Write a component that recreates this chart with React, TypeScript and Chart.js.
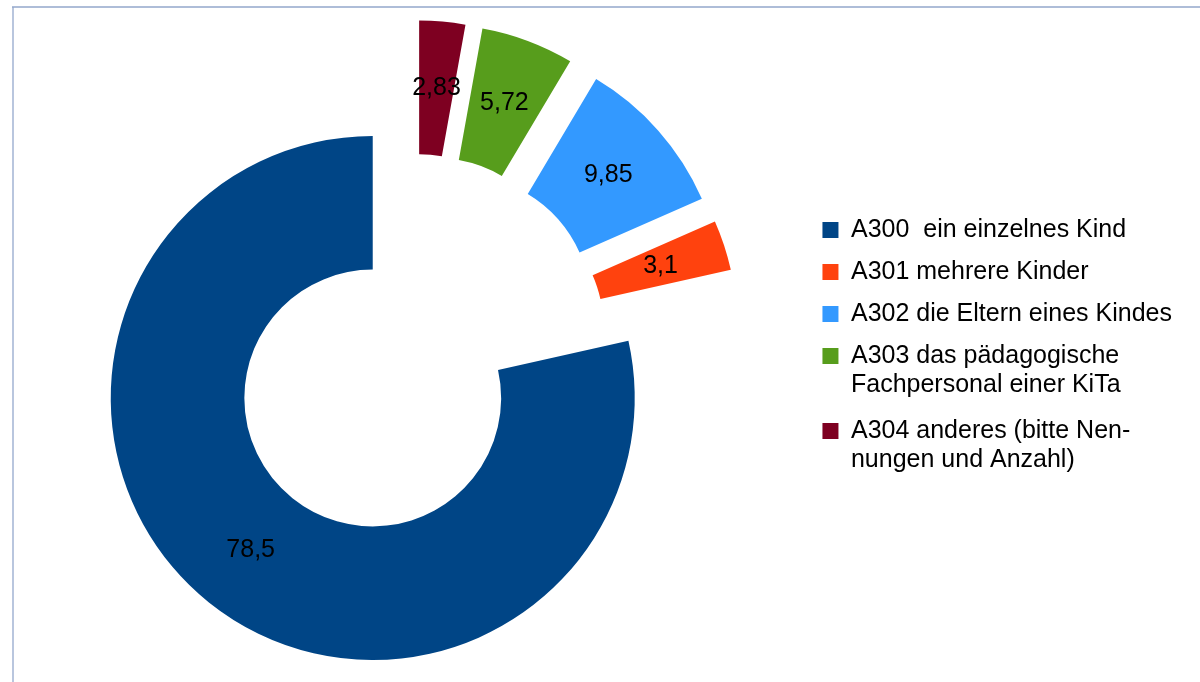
import React, { useEffect, useRef } from 'react';
import { Chart, registerables } from 'chart.js';

Chart.register(...registerables);

// ---- data ----
const categories: (string | string[])[] = [
  'A300  ein einzelnes Kind',
  'A301 mehrere Kinder',
  'A302 die Eltern eines Kindes',
  ['A303 das pädagogische', 'Fachpersonal einer KiTa'],
  ['A304 anderes (bitte Nen-', 'nungen und Anzahl)'],
];
const values = [78.5, 3.1, 9.85, 5.72, 2.83];
const colors = ['#004586', '#ff420e', '#3399ff', '#579d1c', '#7e0021'];
const exploded = [false, true, true, true, true];

// ---- style constants ----
const FONT = '"Liberation Sans", Arial, Helvetica, sans-serif';
const EXPLODE = 130;
const SHIFT = 60; // canvas extends this far left of the page

const fmt = (v: number) => String(v).replace('.', ',');

// LibreOffice draws the series counter-clockwise from 12 o'clock;
// Chart.js draws clockwise, so reverse for drawing and reverse the legend back.
const drawLabels = [...categories].reverse();
const drawValues = [...values].reverse();
const drawColors = [...colors].reverse();
const drawExploded = [...exploded].reverse();

// Exploded slices are pushed outward along a direction halfway between the
// slice's own bisector and the bisector of the whole exploded group.
const explodePlugin = {
  id: 'explodeSlices',
  afterDatasetsUpdate(chart: any) {
    const meta = chart.getDatasetMeta(0);
    const ex = meta.data.filter((_: any, i: number) => drawExploded[i]);
    if (!ex.length) return;
    const gStart = Math.min(...ex.map((a: any) => a.startAngle));
    const gEnd = Math.max(...ex.map((a: any) => a.endAngle));
    const gMid = (gStart + gEnd) / 2;
    meta.data.forEach((arc: any, i: number) => {
      if (!drawExploded[i]) return;
      const mid = (arc.startAngle + arc.endAngle) / 2;
      const dx = (Math.cos(mid) + Math.cos(gMid)) / 2;
      const dy = (Math.sin(mid) + Math.sin(gMid)) / 2;
      arc.x += dx * EXPLODE;
      arc.y += dy * EXPLODE;
    });
  },
};

const valueLabelPlugin = {
  id: 'valueLabels',
  afterDatasetsDraw(chart: any) {
    const { ctx } = chart;
    const meta = chart.getDatasetMeta(0);
    ctx.save();
    ctx.font = `25px ${FONT}`;
    ctx.fillStyle = '#000000';
    ctx.textAlign = 'center';
    ctx.textBaseline = 'middle';
    meta.data.forEach((arc: any, i: number) => {
      const p = arc.getCenterPoint();
      ctx.fillText(fmt(drawValues[i]), p.x, p.y);
    });
    ctx.restore();
  },
};

const framePlugin = {
  id: 'frame',
  beforeDraw(chart: any) {
    const { ctx, width, height } = chart;
    ctx.save();
    ctx.fillStyle = '#ffffff';
    ctx.fillRect(0, 0, width, height);
    ctx.strokeStyle = '#b9c6de';
    ctx.lineWidth = 2;
    ctx.beginPath();
    ctx.moveTo(SHIFT + 13, 7);
    ctx.lineTo(SHIFT + 13, height);
    ctx.stroke();
    ctx.strokeStyle = '#93a7cb';
    ctx.lineWidth = 1.5;
    ctx.beginPath();
    ctx.moveTo(SHIFT + 12, 7);
    ctx.lineTo(width, 7);
    ctx.stroke();
    ctx.restore();
  },
};

export default function App() {
  const ref = useRef<HTMLCanvasElement | null>(null);

  useEffect(() => {
    if (!ref.current) return;
    Chart.defaults.font.family = FONT;
    const chart = new Chart(ref.current, {
      type: 'doughnut',
      data: {
        labels: drawLabels as any,
        datasets: [
          {
            data: drawValues,
            backgroundColor: drawColors,
            borderWidth: 0,
            clip: false as any,
          } as any,
        ],
      },
      options: {
        responsive: false,
        animation: false,
        radius: 262,
        cutout: '49%',
        rotation: 0,
        layout: { padding: { left: 0, right: 18, top: 12, bottom: 0 } },
        plugins: {
          tooltip: { enabled: false },
          title: {
            display: true,
            text: ' ',
            position: 'top',
            fullSize: false,
            font: { size: 12, lineHeight: 1.2 },
            padding: { top: 0, bottom: 87.6 },
          },
          legend: {
            display: true,
            position: 'right',
            align: 'center',
            reverse: true,
            labels: {
              boxWidth: 16,
              boxHeight: 16,
              padding: 17,
              color: '#000000',
              font: { size: 25, family: FONT, lineHeight: 1.16 },
            },
          },
        },
      } as any,
      plugins: [framePlugin, explodePlugin, valueLabelPlugin],
    });
    return () => chart.destroy();
  }, []);

  return (
    <div style={{ position: 'fixed', left: 0, top: 0, width: 1200, height: 682, overflow: 'hidden', background: '#fff' }}>
      <canvas
        ref={ref}
        width={1200 + SHIFT}
        height={682}
        style={{ position: 'absolute', left: -SHIFT, top: 0, display: 'block', width: 1200 + SHIFT, height: 682 }}
      />
    </div>
  );
}
